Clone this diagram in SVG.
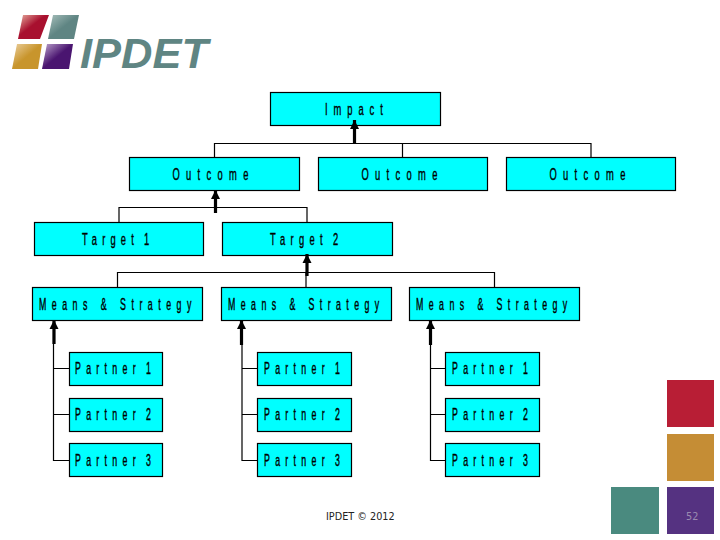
<svg xmlns="http://www.w3.org/2000/svg" width="720" height="540" viewBox="0 0 720 540">
<style>
.box{fill:#00ffff;stroke:#000;stroke-width:1.2}
.lbl{font-family:"Liberation Sans",Arial,sans-serif;font-size:17px;fill:#000;stroke:#000;stroke-width:.4}
.lbs{font-family:"Liberation Sans",Arial,sans-serif;font-size:16px;fill:#000;stroke:#000;stroke-width:.4}
.tight{word-spacing:-5px}
.ln{fill:none;stroke:#000;stroke-width:1.2}
.ar{fill:none;stroke:#000;stroke-width:3.2;marker-end:url(#head)}
.foot{font-family:"DejaVu Sans",Verdana,sans-serif;font-size:9.7px}
</style>
<defs>
<marker id="head" markerUnits="userSpaceOnUse" markerWidth="10" markerHeight="11" refX="9" refY="5.500" orient="auto"><path d="M0 1L9 5.500L0 10Z" fill="#000"/></marker>
<linearGradient id="gr" x1="0" y1="0" x2="1" y2="1"><stop offset="0" stop-color="#e8b0a0"/><stop offset=".45" stop-color="#a8102f"/></linearGradient>
<linearGradient id="gt" x1="0" y1="0" x2="1" y2="1"><stop offset="0" stop-color="#a8c0bc"/><stop offset=".5" stop-color="#5f8583"/></linearGradient>
<linearGradient id="gg" x1="0" y1="0" x2="1" y2="1"><stop offset="0" stop-color="#ecd0a0"/><stop offset=".5" stop-color="#c8952c"/></linearGradient>
<linearGradient id="gp" x1="0" y1="0" x2="1" y2="1"><stop offset="0" stop-color="#c0a8d0"/><stop offset=".5" stop-color="#4a1570"/></linearGradient>
</defs>
<rect width="720" height="540" fill="#fff"/>
<g id="logo">
<path d="M23 15H49L40 39H18Z" fill="url(#gr)"/>
<path d="M53 15H79L74 39H48Z" fill="url(#gt)"/>
<path d="M17 44H42L38 69H12Z" fill="url(#gg)"/>
<path d="M47 44H73L69 69H42Z" fill="url(#gp)"/>
<text x="80" y="68" font-family="Liberation Sans,Arial,sans-serif" font-size="42" font-weight="700" font-style="italic" fill="#5f8583" textLength="128" lengthAdjust="spacingAndGlyphs">IPDET</text>
</g>
<g id="connectors">
<path class="ln" d="M214.500 157V143.500H591V157M402.500 143.500V157"/>
<path class="ln" d="M119 222V207.500H307V222"/>
<path class="ln" d="M117.500 287V272.500H494.500V287M306 272.500V287"/>
<path class="ln" d="M53.500 320V460.500H69M53.500 368.500H69M53.500 414.500H69"/>
<path class="ln" d="M242 320V460.500H257M242 368.500H257M242 414.500H257"/>
<path class="ln" d="M430.500 320V460.500H445M430.500 368.500H445M430.500 414.500H445"/>
</g>
<g id="nodes">
<g id="impact"><rect class="box" x="270.500" y="92.500" width="170" height="33"/><text class="lbl" transform="translate(325 115) scale(.55 1)" textLength="105" lengthAdjust="spacing">Impact</text></g>
<g id="outcome1"><rect class="box" x="129.500" y="157.500" width="170" height="33"/><text class="lbl" transform="translate(172.500 180) scale(.55 1)" textLength="138" lengthAdjust="spacing">Outcome</text></g>
<g id="outcome2"><rect class="box" x="318.500" y="157.500" width="169" height="33"/><text class="lbl" transform="translate(361.500 180) scale(.55 1)" textLength="138" lengthAdjust="spacing">Outcome</text></g>
<g id="outcome3"><rect class="box" x="506.500" y="157.500" width="169" height="33"/><text class="lbl" transform="translate(549.500 180) scale(.55 1)" textLength="138" lengthAdjust="spacing">Outcome</text></g>
<g id="target1"><rect class="box" x="34.500" y="222.500" width="169" height="33"/><text class="lbl tight" transform="translate(82 245) scale(.55 1)" textLength="122" lengthAdjust="spacing">Target 1</text></g>
<g id="target2"><rect class="box" x="222.500" y="222.500" width="170" height="33"/><text class="lbl tight" transform="translate(270 245) scale(.55 1)" textLength="124" lengthAdjust="spacing">Target 2</text></g>
<g id="means1"><rect class="box" x="32.500" y="287.500" width="170" height="33"/><text class="lbs" transform="translate(39 309.500) scale(.55 1)" textLength="277" lengthAdjust="spacing">Means &amp; Strategy</text></g>
<g id="means2"><rect class="box" x="221.500" y="287.500" width="170" height="33"/><text class="lbs" transform="translate(228 309.500) scale(.55 1)" textLength="275" lengthAdjust="spacing">Means &amp; Strategy</text></g>
<g id="means3"><rect class="box" x="409.500" y="287.500" width="170" height="33"/><text class="lbs" transform="translate(416 309.500) scale(.55 1)" textLength="275" lengthAdjust="spacing">Means &amp; Strategy</text></g>
<g id="p11"><rect class="box" x="69.500" y="352.500" width="93" height="33"/><text class="lbs tight" transform="translate(75 374) scale(.55 1)" textLength="138" lengthAdjust="spacing">Partner 1</text></g>
<g id="p12"><rect class="box" x="69.500" y="398.500" width="93" height="33"/><text class="lbs tight" transform="translate(75 420) scale(.55 1)" textLength="138" lengthAdjust="spacing">Partner 2</text></g>
<g id="p13"><rect class="box" x="69.500" y="443.500" width="93" height="33"/><text class="lbs tight" transform="translate(75 465.500) scale(.55 1)" textLength="138" lengthAdjust="spacing">Partner 3</text></g>
<g id="p21"><rect class="box" x="257.500" y="352.500" width="94" height="33"/><text class="lbs tight" transform="translate(264 374) scale(.55 1)" textLength="138" lengthAdjust="spacing">Partner 1</text></g>
<g id="p22"><rect class="box" x="257.500" y="398.500" width="94" height="33"/><text class="lbs tight" transform="translate(264 420) scale(.55 1)" textLength="138" lengthAdjust="spacing">Partner 2</text></g>
<g id="p23"><rect class="box" x="257.500" y="443.500" width="94" height="33"/><text class="lbs tight" transform="translate(264 465.500) scale(.55 1)" textLength="138" lengthAdjust="spacing">Partner 3</text></g>
<g id="p31"><rect class="box" x="445.500" y="352.500" width="94" height="33"/><text class="lbs tight" transform="translate(452 374) scale(.55 1)" textLength="138" lengthAdjust="spacing">Partner 1</text></g>
<g id="p32"><rect class="box" x="445.500" y="398.500" width="94" height="33"/><text class="lbs tight" transform="translate(452 420) scale(.55 1)" textLength="138" lengthAdjust="spacing">Partner 2</text></g>
<g id="p33"><rect class="box" x="445.500" y="443.500" width="94" height="33"/><text class="lbs tight" transform="translate(452 465.500) scale(.55 1)" textLength="138" lengthAdjust="spacing">Partner 3</text></g>
</g>
<g id="arrows">
<path class="ar" d="M354.500 144V120"/>
<path class="ar" d="M215.500 213V190"/>
<path class="ar" d="M307 276V254"/>
<path class="ar" d="M54 344V320"/>
<path class="ar" d="M241.500 345V320"/>
<path class="ar" d="M430.500 345V320"/>
</g>
<g id="footer">
<rect x="667" y="380" width="47" height="47" fill="#b81e35"/>
<rect x="667" y="434" width="47" height="47" fill="#c58d35"/>
<rect x="667" y="487" width="47" height="47" fill="#553281"/>
<rect x="611" y="487" width="48" height="47" fill="#4a8a7f"/>
<text class="foot" x="686" y="520" fill="#9a8ab0">52</text>
<text class="foot" x="326" y="520" fill="#222">IPDET © 2012</text>
</g>
</svg>
